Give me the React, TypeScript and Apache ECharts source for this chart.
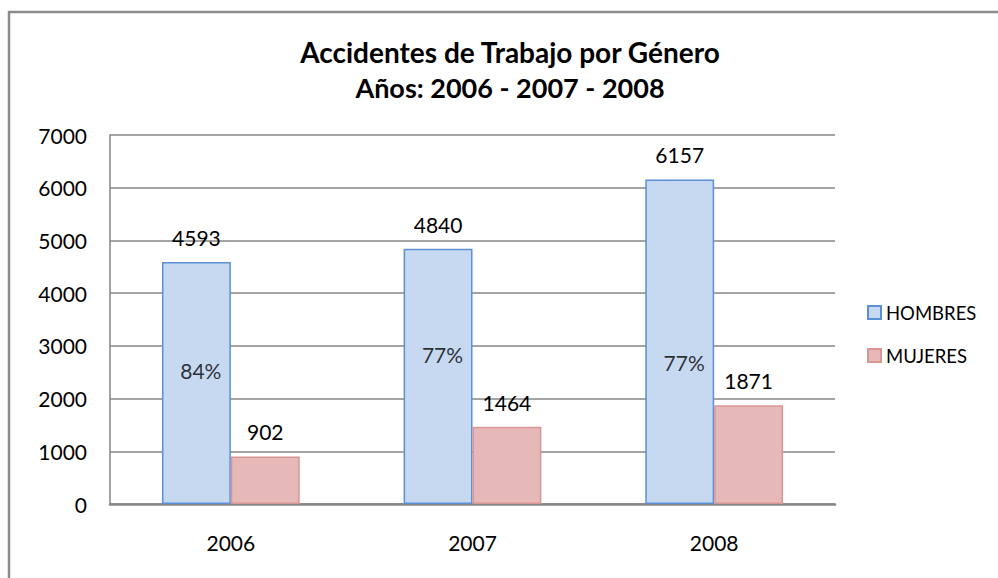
import React, { useEffect, useRef } from "react";
import * as echarts from "echarts";

const years = ["2006", "2007", "2008"];
const hombres = [4593, 4840, 6157];
const mujeres = [902, 1464, 1871];
// value level at which the share-of-men labels sit inside the blue bars
const pctLabelLevel = [2540, 2830, 2690];
const yTicks = { min: 0, max: 7000, interval: 1000 };
const titleLines = ["Accidentes de Trabajo por Género", "Años: 2006 - 2007 - 2008"];

const FONT = "Lato";

export default function App() {
  const ref = useRef<HTMLDivElement>(null);
  useEffect(() => {
    if (!ref.current) return;
    const chart = echarts.init(ref.current, undefined, { renderer: "svg" });
    const pct = hombres.map((h, i) => Math.round((h / (h + mujeres[i])) * 100) + "%");
    chart.setOption({
      animation: false,
      backgroundColor: "#ffffff",
      textStyle: { fontFamily: FONT, color: "#000" },
      legend: {
        orient: "vertical",
        left: 862,
        top: 298,
        itemWidth: 13,
        itemHeight: 13,
        itemGap: 24,
        icon: "rect",
        data: ["HOMBRES", "MUJERES"],
        textStyle: { fontFamily: FONT, fontSize: 18.5, color: "#000" },
      },
      grid: { left: 110, top: 135, right: 163, bottom: 74 },
      xAxis: {
        type: "category",
        data: years,
        axisLine: { show: true, lineStyle: { color: "#868686", width: 2.5 } },
        axisTick: { show: false },
        axisLabel: { fontFamily: FONT, fontSize: 21, color: "#000", margin: 28 },
      },
      yAxis: {
        type: "value",
        min: yTicks.min,
        max: yTicks.max,
        interval: yTicks.interval,
        axisLine: { show: true, lineStyle: { color: "#868686", width: 1.5 } },
        axisTick: { show: false },
        splitLine: { show: true, lineStyle: { color: "#868686", width: 1.5 } },
        axisLabel: {
          fontFamily: FONT,
          fontSize: 21,
          color: "#000",
          margin: 23,
          formatter: (v: number) => String(v),
        },
      },
      series: [
        {
          name: "HOMBRES",
          type: "bar",
          data: hombres,
          barGap: "0%",
          barCategoryGap: "43%",
          itemStyle: { color: "#c6d9f1", borderColor: "#5b8fd6", borderWidth: 1.5 },
          label: {
            show: true,
            position: "top",
            distance: 14,
            fontFamily: FONT,
            fontSize: 21,
            color: "#000",
          },
        },
        {
          name: "MUJERES",
          type: "bar",
          data: mujeres,
          barGap: "0%",
          barCategoryGap: "43%",
          itemStyle: { color: "#e6b9b8", borderColor: "#d99694", borderWidth: 1.5 },
          label: {
            show: true,
            position: "top",
            distance: 14,
            fontFamily: FONT,
            fontSize: 21,
            color: "#000",
          },
        },
        {
          name: "pct",
          type: "scatter",
          data: pctLabelLevel.map((v, i) => [years[i], v]),
          symbolSize: 0,
          silent: true,
          z: 5,
          label: {
            show: true,
            position: "inside",
            offset: [-30, 0],
            formatter: (p: any) => pct[p.dataIndex],
            fontFamily: FONT,
            fontSize: 21,
            color: "#000",
          },
        },
      ],
      graphic: [
        {
          type: "text",
          x: 510,
          y: 52,
          silent: true,
          style: {
            text: titleLines[0],
            fontFamily: FONT,
            fontWeight: "bold",
            fontSize: 28,
            fill: "#000",
            textAlign: "center",
            textVerticalAlign: "middle",
          },
        },
        {
          type: "text",
          x: 510,
          y: 87,
          silent: true,
          style: {
            text: titleLines[1],
            fontFamily: FONT,
            fontWeight: "bold",
            fontSize: 27,
            fill: "#000",
            textAlign: "center",
            textVerticalAlign: "middle",
          },
        },
        {
          type: "rect",
          shape: { x: 9, y: 12, width: 1100, height: 700 },
          style: { fill: "none", stroke: "#8c8c8c", lineWidth: 2.5 },
          silent: true,
          z: 100,
        },
      ],
    });
    return () => chart.dispose();
  }, []);
  return (
    <div
      ref={ref}
      style={{ position: "fixed", left: 0, top: 0, width: 998, height: 578 }}
    />
  );
}
